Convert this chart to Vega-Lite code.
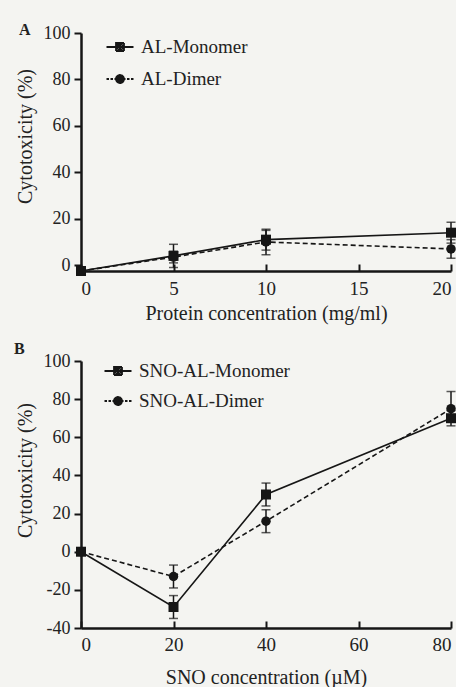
{
  "$schema": "https://vega.github.io/schema/vega-lite/v6.json",
  "background": "#f4f4f1",
  "padding": {"left": 14, "top": 22, "right": 0, "bottom": 0},
  "datasets": {
    "A": [
      {"x": 0, "y": -2.5, "lo": -2.5, "hi": -2.5, "series": "AL-Monomer"},
      {"x": 5, "y": 4, "lo": -1, "hi": 9, "series": "AL-Monomer"},
      {"x": 10, "y": 11, "lo": 6.5, "hi": 15.5, "series": "AL-Monomer"},
      {"x": 20, "y": 14, "lo": 9.5, "hi": 18.5, "series": "AL-Monomer"},
      {"x": 0, "y": -2.5, "lo": -2.5, "hi": -2.5, "series": "AL-Dimer"},
      {"x": 5, "y": 3.5, "lo": 1, "hi": 6, "series": "AL-Dimer"},
      {"x": 10, "y": 10, "lo": 4.5, "hi": 15, "series": "AL-Dimer"},
      {"x": 20, "y": 7, "lo": 3, "hi": 11, "series": "AL-Dimer"}
    ],
    "B": [
      {"x": 0, "y": 0, "lo": 0, "hi": 0, "series": "SNO-AL-Monomer"},
      {"x": 20, "y": -29, "lo": -35, "hi": -23, "series": "SNO-AL-Monomer"},
      {"x": 40, "y": 30, "lo": 24, "hi": 36, "series": "SNO-AL-Monomer"},
      {"x": 80, "y": 70, "lo": 66, "hi": 74, "series": "SNO-AL-Monomer"},
      {"x": 0, "y": 0, "lo": 0, "hi": 0, "series": "SNO-AL-Dimer"},
      {"x": 20, "y": -13, "lo": -19, "hi": -7, "series": "SNO-AL-Dimer"},
      {"x": 40, "y": 16, "lo": 10, "hi": 22, "series": "SNO-AL-Dimer"},
      {"x": 80, "y": 75, "lo": 68, "hi": 84, "series": "SNO-AL-Dimer"}
    ]
  },
  "config": {
    "font": "Liberation Serif",
    "view": {"stroke": null},
    "axis": {
      "grid": false,
      "domainColor": "#161616",
      "domainWidth": 2.5,
      "tickColor": "#161616",
      "tickWidth": 2,
      "labelFont": "Liberation Serif",
      "labelFontSize": 18,
      "labelColor": "#222222",
      "titleFont": "Liberation Serif",
      "titleFontSize": 20,
      "titleFontWeight": "normal",
      "titleColor": "#222222"
    },
    "axisX": {"titleFontSize": 20, "labelFontSize": 19},
    "legend": {
      "padding": 0,
      "labelFont": "Liberation Serif",
      "labelFontSize": 19,
      "labelColor": "#222222",
      "labelOffset": 10,
      "rowPadding": 11,
      "symbolSize": 400,
      "symbolStrokeWidth": 1.8,
      "symbolOpacity": 1
    },
    "title": {"font": "Liberation Serif", "fontSize": 16, "fontWeight": "bold", "color": "#222222", "anchor": "start"},
    "concat": {"spacing": 18}
  },
  "resolve": {"scale": {"shape": "independent", "strokeDash": "independent", "y": "independent", "x": "independent"}, "legend": {"shape": "independent", "strokeDash": "independent"}},
  "vconcat": [
    {
      "width": 370,
      "height": 238,
      "title": {"text": "A", "dx": 4, "dy": 1, "offset": -13},
      "data": {"name": "A"},
      "encoding": {
        "x": {"field": "x", "type": "quantitative", "scale": {"domain": [0, 20], "nice": false},
          "axis": {"values": [0, 5, 10, 15, 20], "tickSize": -7, "labelPadding": 15, "title": "Protein concentration (mg/ml)", "titlePadding": 5}},
        "y": {"field": "y", "type": "quantitative", "scale": {"domain": [-2.5, 100], "nice": false}, "title": "Cytotoxicity (%)",
          "axis": {"values": [0, 20, 40, 60, 80, 100], "tickSize": 7, "labelPadding": 4, "titlePadding": 8, "titleY": 103}}
      },
      "layer": [
        {
          "mark": {"type": "errorbar", "color": "#161616", "ticks": {"size": 9, "thickness": 1.5}, "rule": {"strokeWidth": 1.5}},
          "encoding": {
            "y": {"field": "lo", "type": "quantitative", "scale": {"domain": [-2.5, 100], "nice": false}, "title": "Cytotoxicity (%)",
              "axis": {"values": [0, 20, 40, 60, 80, 100], "tickSize": 7, "labelPadding": 4, "titlePadding": 8, "titleY": 103}},
            "y2": {"field": "hi"},
            "detail": {"field": "series"}
          }
        },
        {
          "transform": [{"filter": "datum.series === 'AL-Monomer'"}],
          "mark": {"type": "line", "color": "#161616", "strokeWidth": 1.6}
        },
        {
          "transform": [{"filter": "datum.series === 'AL-Dimer'"}],
          "mark": {"type": "line", "color": "#161616", "strokeWidth": 1.6, "strokeDash": [5, 3]}
        },
        {
          "transform": [{"filter": "datum.series === 'AL-Monomer'"}],
          "mark": {"type": "point", "shape": "square", "filled": true, "color": "#161616", "opacity": 1, "size": 100}
        },
        {
          "transform": [{"filter": "datum.series === 'AL-Dimer'"}],
          "mark": {"type": "point", "shape": "circle", "filled": true, "color": "#161616", "opacity": 1, "size": 90}
        },
        {
          "transform": [{"filter": "false"}],
          "mark": {"type": "line", "color": "#161616", "strokeWidth": 1.8},
          "encoding": {
            "strokeDash": {"field": "series", "type": "nominal",
              "scale": {"domain": ["AL-Monomer", "AL-Dimer"], "range": [[1, 0], [1, 0]]},
              "legend": {"title": null, "orient": "none", "legendX": 28, "legendY": 3, "rowPadding": 11}}
          }
        },
        {
          "transform": [{"filter": "false"}],
          "mark": {"type": "point", "filled": true, "color": "#161616", "strokeWidth": 1.8},
          "encoding": {
            "shape": {"field": "series", "type": "nominal",
              "scale": {"domain": ["AL-Monomer", "AL-Dimer"], "range": [
                "M-1.35,0H1.35M-0.4,-0.4H0.4V0.4H-0.4ZM-0.25,-0.25H0.25V0.25H-0.25ZM-0.1,-0.1H0.1V0.1H-0.1Z",
                "M-1.35,0H-1.1M-0.95,0H-0.7M-0.55,0H-0.4M0.4,0H0.55M0.7,0H0.95M1.1,0H1.35M0.4,0A0.4,0.4,0,1,1,-0.4,0A0.4,0.4,0,1,1,0.4,0ZM0.25,0A0.25,0.25,0,1,1,-0.25,0A0.25,0.25,0,1,1,0.25,0ZM0.1,0A0.1,0.1,0,1,1,-0.1,0A0.1,0.1,0,1,1,0.1,0Z"]},
              "legend": {"title": null, "orient": "none", "legendX": 28, "legendY": 3, "rowPadding": 11}}
          }
        }
      ]
    },
    {
      "width": 370,
      "height": 267,
      "title": {"text": "B", "dx": -1, "dy": -3, "offset": -8},
      "data": {"name": "B"},
      "encoding": {
        "x": {"field": "x", "type": "quantitative", "scale": {"domain": [0, 80], "nice": false},
          "axis": {"values": [0, 20, 40, 60, 80], "tickSize": -7, "labelPadding": 14, "title": "SNO concentration (µM)", "titlePadding": 13}},
        "y": {"field": "y", "type": "quantitative", "scale": {"domain": [-40, 100], "nice": false}, "title": "Cytotoxicity (%)",
          "axis": {"values": [-40, -20, 0, 20, 40, 60, 80, 100], "tickSize": 7, "labelPadding": 4, "titlePadding": 8, "titleY": 109,
            "labelExpr": "replace(datum.label, '−', '-')"}}
      },
      "layer": [
        {
          "mark": {"type": "errorbar", "color": "#161616", "ticks": {"size": 9, "thickness": 1.5}, "rule": {"strokeWidth": 1.5}},
          "encoding": {
            "y": {"field": "lo", "type": "quantitative", "scale": {"domain": [-40, 100], "nice": false}, "title": "Cytotoxicity (%)",
              "axis": {"values": [-40, -20, 0, 20, 40, 60, 80, 100], "tickSize": 7, "labelPadding": 4, "titlePadding": 8, "titleY": 109,
                "labelExpr": "replace(datum.label, '−', '-')"}},
            "y2": {"field": "hi"},
            "detail": {"field": "series"}
          }
        },
        {
          "transform": [{"filter": "datum.series === 'SNO-AL-Monomer'"}],
          "mark": {"type": "line", "color": "#161616", "strokeWidth": 1.6}
        },
        {
          "transform": [{"filter": "datum.series === 'SNO-AL-Dimer'"}],
          "mark": {"type": "line", "color": "#161616", "strokeWidth": 1.6, "strokeDash": [5, 3]}
        },
        {
          "transform": [{"filter": "datum.series === 'SNO-AL-Monomer'"}],
          "mark": {"type": "point", "shape": "square", "filled": true, "color": "#161616", "opacity": 1, "size": 100}
        },
        {
          "transform": [{"filter": "datum.series === 'SNO-AL-Dimer'"}],
          "mark": {"type": "point", "shape": "circle", "filled": true, "color": "#161616", "opacity": 1, "size": 90}
        },
        {
          "transform": [{"filter": "false"}],
          "mark": {"type": "line", "color": "#161616", "strokeWidth": 1.8},
          "encoding": {
            "strokeDash": {"field": "series", "type": "nominal",
              "scale": {"domain": ["SNO-AL-Monomer", "SNO-AL-Dimer"], "range": [[1, 0], [1, 0]]},
              "legend": {"title": null, "orient": "none", "legendX": 26, "legendY": -1, "rowPadding": 9}}
          }
        },
        {
          "transform": [{"filter": "false"}],
          "mark": {"type": "point", "filled": true, "color": "#161616", "strokeWidth": 1.8},
          "encoding": {
            "shape": {"field": "series", "type": "nominal",
              "scale": {"domain": ["SNO-AL-Monomer", "SNO-AL-Dimer"], "range": [
                "M-1.35,0H1.35M-0.4,-0.4H0.4V0.4H-0.4ZM-0.25,-0.25H0.25V0.25H-0.25ZM-0.1,-0.1H0.1V0.1H-0.1Z",
                "M-1.35,0H-1.1M-0.95,0H-0.7M-0.55,0H-0.4M0.4,0H0.55M0.7,0H0.95M1.1,0H1.35M0.4,0A0.4,0.4,0,1,1,-0.4,0A0.4,0.4,0,1,1,0.4,0ZM0.25,0A0.25,0.25,0,1,1,-0.25,0A0.25,0.25,0,1,1,0.25,0ZM0.1,0A0.1,0.1,0,1,1,-0.1,0A0.1,0.1,0,1,1,0.1,0Z"]},
              "legend": {"title": null, "orient": "none", "legendX": 26, "legendY": -1, "rowPadding": 9}}
          }
        }
      ]
    }
  ]
}
